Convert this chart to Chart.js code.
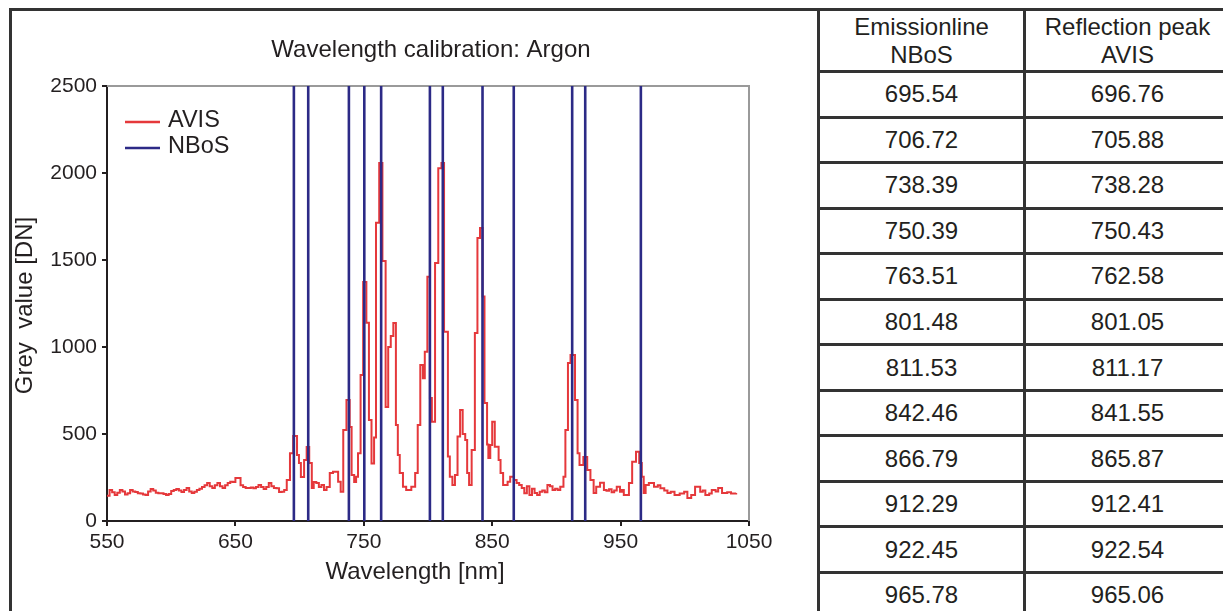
<!DOCTYPE html>
<html>
<head>
<meta charset="utf-8">
<title>Wavelength calibration: Argon</title>
<script src="https://cdn.jsdelivr.net/npm/chart.js@4.4.1/dist/chart.umd.min.js"></script>
<style>
  html, body { margin: 0; padding: 0; background: #fff; width: 1223px; height: 611px; overflow: hidden; }
  body { position: relative; font-family: "Liberation Sans", Arial, sans-serif; color: #231f20; }
  #plotBox { position: absolute; left: 0; top: 0; width: 818px; height: 611px; }
  #frame { position: absolute; left: 9px; top: 8px; width: 820px; height: 640px;
           border-left: 3px solid #333; border-top: 3px solid #333; box-sizing: border-box; pointer-events: none; }
  #lineTable { position: absolute; left: 817px; top: 8px; display: grid;
               grid-template-columns: 203px 203px; grid-template-rows: 59px repeat(12, 42.55px);
               gap: 3px; padding: 3px; background: #333; }
  .cell { background: #fff; display: flex; align-items: center; justify-content: center;
          text-align: center; font-size: 24px; line-height: 28px; }
</style>
</head>
<body>
<div id="plotBox"><canvas id="spectrum"></canvas></div>
<div id="frame"></div>
<div id="lineTable"></div>
<script>
// AVIS spectrum of the argon lamp: step start wavelength [nm] and grey value [DN]
const spectrumNm = [
  550, 552, 554, 556, 558, 560, 562, 564, 566, 568, 570, 572, 574, 576, 578, 580,
  582, 584, 586, 588, 590, 592, 594, 596, 598, 600, 602, 604, 606, 608, 610, 612,
  614, 616, 618, 620, 622, 624, 626, 628, 630, 632, 634, 636, 638, 640, 642, 644,
  646, 648, 650, 652, 654, 656, 658, 660, 662, 664, 666, 668, 670, 672, 674, 676,
  678, 680, 682, 684, 686, 688, 690, 692.5, 695, 698, 699.5, 701, 703.5, 705.5, 707.5, 709.5,
  711, 713, 715, 717, 719, 721, 723.5, 726, 730, 732, 734, 736.5, 739, 740.5, 742.5, 744,
  745.5, 747.5, 749.5, 752, 754, 756, 758, 759.5, 762, 764.5, 767, 769, 771, 773, 775, 776.5,
  778, 780.5, 783, 787, 790, 792, 794, 796, 797.5, 799.5, 801.5, 803, 805.5, 808, 810.5, 812.5,
  815.5, 817, 819, 821, 823, 825, 827, 829, 830.5, 832, 834, 836.5, 838.5, 840.5, 842.5, 844,
  846, 847, 848.5, 850, 852, 855, 856.5, 858.5, 862, 864, 867, 869, 871, 873, 875, 877,
  879, 881, 883, 885, 887, 889, 891, 893, 895, 897, 899, 901, 903, 905.5, 907, 909,
  911, 914.5, 916.5, 918, 921, 924, 926.5, 929, 931, 934, 937, 939, 941, 943, 945, 947,
  949.5, 951, 952.5, 956.5, 959, 962, 964.5, 966.5, 968, 969.5, 972, 976, 979, 981, 984, 986.5,
  989, 992, 996, 999.5, 1002, 1005, 1008, 1012, 1014, 1016, 1019, 1021, 1024, 1026, 1029, 1033,
  1036, 1040
];
const spectrumDN = [
  145, 178, 165, 150, 162, 178, 170, 152, 160, 178, 170, 166, 160, 158, 152, 150,
  170, 184, 176, 162, 160, 160, 155, 150, 155, 172, 178, 184, 175, 167, 178, 190,
  170, 161, 168, 178, 185, 195, 205, 218, 200, 190, 205, 218, 200, 190, 205, 218,
  225, 224, 247, 247, 205, 195, 190, 190, 192, 188, 195, 207, 196, 184, 195, 218,
  200, 190, 188, 167, 168, 178, 236, 390, 488, 379, 333, 253, 350, 425, 333, 190,
  224, 218, 195, 207, 178, 195, 276, 283, 226, 168, 523, 695, 540, 264, 224, 255,
  390, 839, 1374, 1140, 580, 330, 480, 1714, 2058, 1494, 655, 1000, 1063, 1138, 552, 379,
  276, 197, 178, 197, 276, 552, 897, 820, 973, 1404, 707, 571, 1483, 2028, 2058, 1088,
  370, 255, 207, 264, 485, 638, 500, 465, 276, 207, 408, 1080, 1626, 1684, 1290, 678,
  440, 362, 437, 571, 427, 350, 276, 207, 226, 255, 236, 218, 207, 190, 160, 200,
  150, 185, 161, 150, 168, 175, 165, 207, 200, 178, 185, 178, 197, 255, 523, 908,
  954, 695, 390, 322, 368, 293, 236, 161, 197, 220, 178, 174, 182, 165, 176, 197,
  168, 178, 150, 218, 341, 398, 333, 255, 161, 207, 218, 197, 205, 188, 176, 161,
  168, 150, 158, 168, 132, 150, 197, 168, 176, 150, 158, 178, 170, 190, 161, 165,
  158, 161
];

// Argon emission lines (NBoS) and matching AVIS reflection peaks [nm]
const emissionNBoS = [695.54, 706.72, 738.39, 750.39, 763.51, 801.48, 811.53, 842.46, 866.79, 912.29, 922.45, 965.78];
const reflectionAVIS = [696.76, 705.88, 738.28, 750.43, 762.58, 801.05, 811.17, 841.55, 865.87, 912.41, 922.54, 965.06];

// Axis ranges and tick labels
const xTicks = [550, 650, 750, 850, 950, 1050];
const yTicks = [0, 500, 1000, 1500, 2000, 2500];
const tableHeaders = ['Emissionline<br>NBoS', 'Reflection peak<br>AVIS'];

const FONT = '"Liberation Sans", Arial, sans-serif';
const INK = '#231f20';
const RED = '#e5383b';
const BLUE = '#2c2a86';

// Comparison table
const tableEl = document.getElementById('lineTable');
tableHeaders.forEach(h => {
  const c = document.createElement('div');
  c.className = 'cell';
  c.innerHTML = h;
  tableEl.appendChild(c);
});
emissionNBoS.forEach((e, i) => {
  [e, reflectionAVIS[i]].forEach(v => {
    const c = document.createElement('div');
    c.className = 'cell';
    c.textContent = v.toFixed(2);
    tableEl.appendChild(c);
  });
});

// Frame, titles and legend drawn around the plot area
const decorations = {
  id: 'decorations',
  beforeDatasetsDraw(chart) {
    const { ctx, chartArea: a } = chart;
    ctx.save();
    ctx.strokeStyle = '#9a9a9a';
    ctx.lineWidth = 2;
    ctx.beginPath();
    ctx.moveTo(a.left, a.top);
    ctx.lineTo(a.right, a.top);
    ctx.lineTo(a.right, a.bottom);
    ctx.stroke();
    ctx.restore();
  },
  afterDraw(chart) {
    const { ctx, chartArea: a } = chart;
    ctx.save();
    ctx.fillStyle = INK;
    ctx.textAlign = 'center';
    ctx.textBaseline = 'middle';
    ctx.font = '24px ' + FONT;
    ctx.fillText('Wavelength calibration: Argon', 431, 50);
    ctx.fillText('Wavelength [nm]', 415, 572);
    ctx.save();
    ctx.translate(25, (a.top + a.bottom) / 2 + 2);
    ctx.rotate(-Math.PI / 2);
    ctx.fillText('Grey  value [DN]', 0, 0);
    ctx.restore();

    // legend in the upper left corner of the plot
    ctx.font = '23.5px ' + FONT;
    ctx.textAlign = 'left';
    chart.data.datasets.forEach((ds, i) => {
      const y = a.top + 36 + i * 26;
      ctx.strokeStyle = ds.borderColor;
      ctx.lineWidth = 2.4;
      ctx.beginPath();
      ctx.moveTo(a.left + 18, y);
      ctx.lineTo(a.left + 53, y);
      ctx.stroke();
      ctx.fillText(ds.label, a.left + 61, y - 1);
    });
    ctx.restore();
  }
};

const axisStyle = {
  grid: { drawOnChartArea: false, drawTicks: true, tickLength: 5, color: INK, lineWidth: 2 },
  border: { display: true, color: INK, width: 2 }
};

new Chart(document.getElementById('spectrum'), {
  type: 'line',
  data: {
    datasets: [
      {
        label: 'AVIS',
        data: spectrumNm.map((x, i) => ({ x, y: spectrumDN[i] })),
        borderColor: RED,
        borderWidth: 2,
        stepped: true,
        pointRadius: 0,
        fill: false,
        order: 1
      },
      {
        label: 'NBoS',
        data: emissionNBoS.flatMap(x => [{ x, y: yTicks[0] }, { x, y: yTicks[yTicks.length - 1] }, { x, y: null }]),
        borderColor: BLUE,
        borderWidth: 2.6,
        spanGaps: false,
        pointRadius: 0,
        fill: false,
        order: 0
      }
    ]
  },
  options: {
    responsive: true,
    maintainAspectRatio: false,
    animation: false,
    devicePixelRatio: 1,
    layout: { padding: { left: 32, right: 69, top: 86, bottom: 50 } },
    plugins: { legend: { display: false }, title: { display: false }, tooltip: { enabled: false } },
    scales: {
      x: {
        type: 'linear',
        min: xTicks[0],
        max: xTicks[xTicks.length - 1],
        afterBuildTicks: s => { s.ticks = xTicks.map(v => ({ value: v })); },
        afterFit: s => { s.height = 40; },
        ticks: { color: INK, font: { size: 21, family: FONT }, padding: 4, maxRotation: 0, callback: v => String(v) },
        ...axisStyle
      },
      y: {
        type: 'linear',
        min: yTicks[0],
        max: yTicks[yTicks.length - 1],
        afterBuildTicks: s => { s.ticks = yTicks.map(v => ({ value: v })); },
        afterFit: s => { s.width = 75; },
        ticks: { color: INK, font: { size: 21, family: FONT }, padding: 5, callback: v => String(v) },
        ...axisStyle
      }
    }
  },
  plugins: [decorations]
});
</script>
</body>
</html>
